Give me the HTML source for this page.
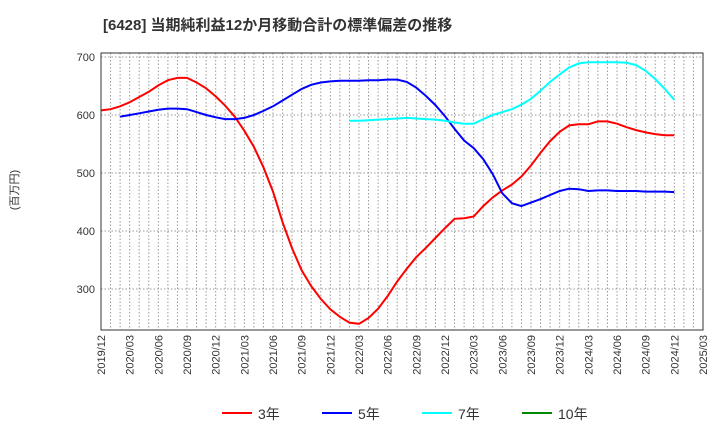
<!DOCTYPE html>
<html><head><meta charset="utf-8"><style>
body{margin:0;background:#fff;}
svg{font-family:"Liberation Sans","Noto Sans CJK JP",sans-serif;}
</style></head><body>
<svg id="c" width="720" height="440">
<text x="103" y="30" font-size="15" font-weight="bold" fill="#333">[6428]  当期純利益12か月移動合計の標準偏差の推移</text>
<text transform="translate(18,190) rotate(-90)" text-anchor="middle" font-size="11" fill="#333">(百万円)</text>
<g id="grid"></g><g id="series"></g><g id="axes"></g>
<g id="legend"></g>
</svg>
<script>
const yTicks=[300,400,500,600,700];
const xLabels=["2019/12","2020/03","2020/06","2020/09","2020/12","2021/03","2021/06","2021/09","2021/12","2022/03","2022/06","2022/09","2022/12","2023/03","2023/06","2023/09","2023/12","2024/03","2024/06","2024/09","2024/12","2025/03"];
const s3=[608,610,615,622,631,640,651,660,664,664,656,646,632,616,597,573,545,510,468,415,370,332,305,283,265,252,242,240,250,266,288,313,335,355,371,388,405,421,422,425,443,458,470,480,494,513,535,555,571,582,584,584,589,589,585,579,574,570,567,565,565];
const s5=[null,null,597,600,603,606,609,611,611,610,605,600,596,593,593,595,600,607,615,625,635,645,652,656,658,659,659,659,660,660,661,661,657,647,633,617,598,576,556,543,524,498,465,448,443,449,455,462,469,473,472,469,470,470,469,469,469,468,468,468,467];
const s7=[null,null,null,null,null,null,null,null,null,null,null,null,null,null,null,null,null,null,null,null,null,null,null,null,null,null,590,590,591,592,593,594,595,594,593,592,590,587,585,585,593,600,605,610,618,628,642,657,670,682,689,691,691,691,691,690,686,676,662,645,626];
const s10=[];
const L=101,R=703,T=53,B=330;
const X=m=>L+(R-L)*m/63;
const Y=v=>115-(v-600)*0.58;
const NS="http://www.w3.org/2000/svg";
function mk(t,a,p){const e=document.createElementNS(NS,t);for(const k in a)e.setAttribute(k,a[k]);p.appendChild(e);return e;}
const g=document.getElementById('grid'),ax=document.getElementById('axes'),se=document.getElementById('series'),lg=document.getElementById('legend');
for(let m=1;m<63;m++){const l=mk('line',{x1:X(m),x2:X(m),y1:T,y2:B,stroke:'#999','stroke-dasharray':'1.5,2','stroke-width':1},g);

}
yTicks.forEach(v=>{const l=mk('line',{x1:L,x2:R,y1:Y(v),y2:Y(v),stroke:'#999','stroke-dasharray':'1.5,2'},g);


const t=mk('text',{x:L-6,y:Y(v)+4,'text-anchor':'end','font-size':11,fill:'#333'},ax);t.textContent=v;

});
const fr=mk('rect',{x:L,y:T,width:R-L,height:B-T,fill:'none',stroke:'#333'},ax);


xLabels.forEach((s,i)=>{const x=X(i*3);const t=mk('text',{transform:`translate(${x+4},${B+5}) rotate(-90)`,'text-anchor':'end','font-size':11,fill:'#333'},ax);t.textContent=s;

});
function line(arr,col,name){let d='';let pen=false;arr.forEach((v,i)=>{if(v==null){pen=false;return;}d+=(pen?'L':'M')+X(i).toFixed(1)+','+Y(v).toFixed(1);pen=true;});
if(!d)return;const p=mk('path',{d,fill:'none',stroke:col,'stroke-width':2},se);

}
line(s3,'#f00','series-3y');line(s5,'#00f','series-5y');line(s7,'#0ff','series-7y');line(s10,'#080','series-10y');
[['3年','#f00',222],['5年','#00f',322],['7年','#0ff',422],['10年','#080',522]].forEach(([n,c,x])=>{
const gg=mk('g',{},lg);


mk('line',{x1:x,x2:x+30,y1:413,y2:413,stroke:c,'stroke-width':2},gg);
const t=mk('text',{x:x+36,y:419,'font-size':14,fill:'#333'},gg);t.textContent=n;});
</script>
</body></html>
